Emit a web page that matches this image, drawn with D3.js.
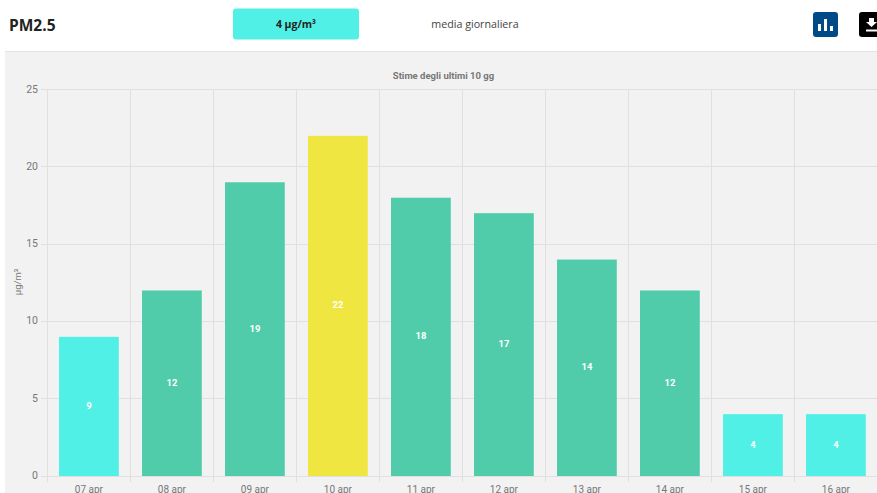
<!DOCTYPE html>
<html>
<head>
<meta charset="utf-8">
<script src="https://cdn.jsdelivr.net/npm/d3@7"></script>
<style>
  html, body { margin: 0; padding: 0; background: #fff; overflow: hidden; }
  text { font-family: Roboto, "Liberation Sans", sans-serif; }
  .head { font-family: "Open Sans", "Noto Sans", sans-serif; }
</style>
</head>
<body>
<script>
var width = 877, height = 493;

var days = ["07 apr", "08 apr", "09 apr", "10 apr", "11 apr", "12 apr", "13 apr", "14 apr", "15 apr", "16 apr"];
var values = [9, 12, 19, 22, 18, 17, 14, 12, 4, 4];
var yTicks = [0, 5, 10, 15, 20, 25];

var color_cyan = "#50f0e6", color_green = "#50ccaa", color_yellow = "#f0e641";
var color_panel = "#f2f2f2", color_grid = "#e0e0e0", color_axis = "#777";

function barColor(v) {
  if (v <= 10) return color_cyan;
  if (v <= 20) return color_green;
  return color_yellow;
}

var svg = d3.select("body").append("svg")
  .attr("width", width)
  .attr("height", height)
  .style("display", "block");

// header strip
svg.append("text").attr("class", "head")
  .attr("x", 9).attr("y", 31)
  .attr("font-size", 15.5).attr("font-weight", 700).attr("fill", "#222")
  .text("PM2.5");
svg.append("rect")
  .attr("x", 233).attr("y", 8.5).attr("width", 126).attr("height", 31).attr("rx", 3)
  .attr("fill", color_cyan);
svg.append("text").attr("class", "head")
  .attr("x", 296).attr("y", 28).attr("text-anchor", "middle")
  .attr("font-size", 10.5).attr("font-weight", 700).attr("fill", "#222")
  .text("4 µg/m³");
svg.append("text").attr("class", "head")
  .attr("x", 475).attr("y", 28).attr("text-anchor", "middle")
  .attr("font-size", 10.7).attr("fill", "#444")
  .text("media giornaliera");

// header buttons
var chartBtn = svg.append("g").attr("transform", "translate(813,12)");
chartBtn.append("rect").attr("width", 25).attr("height", 25).attr("rx", 3).attr("fill", "#004b87");
chartBtn.selectAll("line").data([[6.5, 12], [12.5, 7], [18.5, 14]])
  .enter().append("line")
  .attr("x1", function(d) { return d[0]; }).attr("x2", function(d) { return d[0]; })
  .attr("y1", function(d) { return d[1]; }).attr("y2", 19)
  .attr("stroke", "#fff").attr("stroke-width", 3);

var dlBtn = svg.append("g").attr("transform", "translate(859,12)");
dlBtn.append("rect").attr("width", 25).attr("height", 25).attr("rx", 3).attr("fill", "#000");
dlBtn.append("path").attr("d", "M10 6h5v4h3l-5.5 5L7 10h3z").attr("fill", "#fff");
dlBtn.append("rect").attr("x", 7).attr("y", 17.5).attr("width", 11).attr("height", 2).attr("fill", "#fff");

// chart panel
svg.append("line").attr("x1", 5).attr("x2", width).attr("y1", 51.5).attr("y2", 51.5).attr("stroke", "#e2e2e2");
svg.append("rect").attr("x", 5).attr("y", 52).attr("width", width - 5).attr("height", height - 52).attr("fill", color_panel);

svg.append("text")
  .attr("x", 443.5).attr("y", 79).attr("text-anchor", "middle")
  .attr("font-size", 9.5).attr("font-weight", 700).attr("fill", color_axis)
  .text("Stime degli ultimi 10 gg");

var x = d3.scaleBand().domain(days).range([47.4, 877.4]).paddingInner(0.28).paddingOuter(0.14);
var y = d3.scaleLinear().domain([0, 25]).range([476, 89.5]);
var step = x.step();

var chart = svg.append("g");

// grid
chart.append("g").selectAll("line").data(yTicks)
  .enter().append("line")
  .attr("x1", 41).attr("x2", width)
  .attr("y1", function(d) { return Math.floor(y(d)) + 0.5; })
  .attr("y2", function(d) { return Math.floor(y(d)) + 0.5; })
  .attr("stroke", color_grid);

chart.append("g").selectAll("line").data(days)
  .enter().append("line")
  .attr("x1", function(d) { return Math.floor(x(d) - step * 0.14) + 0.5; })
  .attr("x2", function(d) { return Math.floor(x(d) - step * 0.14) + 0.5; })
  .attr("y1", 89).attr("y2", 482)
  .attr("stroke", color_grid);

// bars
chart.append("g").selectAll("rect").data(values)
  .enter().append("rect")
  .attr("x", function(d, i) { return x(days[i]); })
  .attr("width", x.bandwidth())
  .attr("y", function(d) { return y(d); })
  .attr("height", function(d) { return y(0) - y(d); })
  .attr("fill", barColor);

// values inside bars
chart.append("g").selectAll("text").data(values)
  .enter().append("text")
  .attr("x", function(d, i) { return x(days[i]) + x.bandwidth() / 2; })
  .attr("y", function(d) { return (y(d) + y(0)) / 2 + 2.5; })
  .attr("text-anchor", "middle")
  .attr("font-size", 9.5).attr("font-weight", 700).attr("fill", "#fff")
  .text(function(d) { return d; });

// axis labels
chart.append("g").selectAll("text").data(yTicks)
  .enter().append("text")
  .attr("x", 38).attr("y", function(d) { return y(d) + 3; })
  .attr("text-anchor", "end")
  .attr("font-size", 10.5).attr("fill", color_axis)
  .text(function(d) { return d; });

chart.append("g").selectAll("text").data(days)
  .enter().append("text")
  .attr("x", function(d) { return x(d) + x.bandwidth() / 2; })
  .attr("y", 492.5)
  .attr("text-anchor", "middle")
  .attr("font-size", 10).attr("fill", color_axis)
  .text(function(d) { return d; });

svg.append("text")
  .attr("transform", "translate(21,282) rotate(-90)")
  .attr("text-anchor", "middle")
  .attr("font-size", 9.5).attr("fill", color_axis)
  .text("µg/m³");
</script>
</body>
</html>
